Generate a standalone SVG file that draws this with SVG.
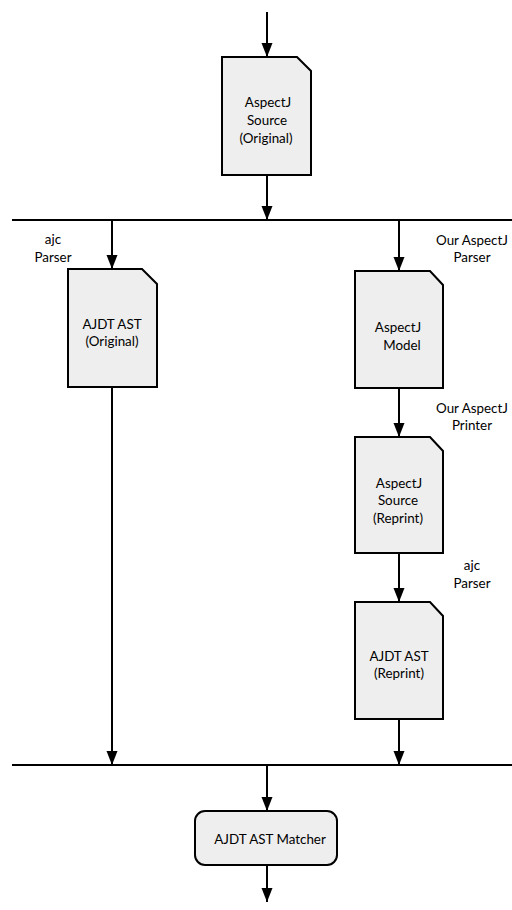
<svg xmlns="http://www.w3.org/2000/svg" width="512" height="910" viewBox="0 0 512 910">
<style>
.doc{fill:#eeeeee;stroke:#000;stroke-width:2}
.t{font-family:Lato,"Noto Sans",sans-serif;font-size:13.4px;fill:#000;text-anchor:middle}
.c line{stroke:#000;stroke-width:2}
.bar{stroke:#000;stroke-width:2}
</style>
<defs>
<marker id="ah" markerWidth="14" markerHeight="12" viewBox="0 0 14 12" refX="14" refY="5.5" orient="auto" markerUnits="userSpaceOnUse">
<path d="M0,0 L14,5.5 L0,11 Z" fill="#000"/>
</marker>
</defs>
<g id="connectors" class="c">
<line x1="12" y1="220" x2="512" y2="220" class="bar"/>
<line x1="12" y1="765" x2="512" y2="765" class="bar"/>
<line x1="267" y1="12" x2="267" y2="57" marker-end="url(#ah)"/>
<line x1="267" y1="175" x2="267" y2="220" marker-end="url(#ah)"/>
<line x1="112" y1="220" x2="112" y2="269" marker-end="url(#ah)"/>
<line x1="399" y1="220" x2="399" y2="271" marker-end="url(#ah)"/>
<line x1="399" y1="388" x2="399" y2="437" marker-end="url(#ah)"/>
<line x1="399" y1="553" x2="399" y2="602" marker-end="url(#ah)"/>
<line x1="399" y1="719" x2="399" y2="765" marker-end="url(#ah)"/>
<line x1="112" y1="383" x2="112" y2="765" marker-end="url(#ah)"/>
<line x1="267" y1="765" x2="267" y2="811" marker-end="url(#ah)"/>
<line x1="267" y1="865" x2="267" y2="902" marker-end="url(#ah)"/>
<text class="t" x="53" y="244">ajc</text>
<text class="t" x="53" y="262">Parser</text>
<text class="t" x="472" y="245">Our AspectJ</text>
<text class="t" x="472" y="262">Parser</text>
<text class="t" x="472" y="413">Our AspectJ</text>
<text class="t" x="472" y="430">Printer</text>
<text class="t" x="472" y="570">ajc</text>
<text class="t" x="472" y="588">Parser</text>
</g>
<g id="src-original">
<path class="doc" d="M222,57 H297 L311,71 V175 H222 Z"/>
<text class="t" x="268" y="107">AspectJ</text>
<text class="t" x="267" y="125">Source</text>
<text class="t" x="266" y="143">(Original)</text>
</g>
<g id="ast-original">
<path class="doc" d="M68,269 H142 L157,284 V387 H68 Z"/>
<text class="t" x="112" y="329">AJDT AST</text>
<text class="t" x="112" y="346">(Original)</text>
</g>
<g id="model">
<path class="doc" d="M355,271 H430 L443,285 V388 H355 Z"/>
<text class="t" x="398" y="332">AspectJ</text>
<text class="t" x="402" y="350">Model</text>
</g>
<g id="src-reprint">
<path class="doc" d="M355,437 H430 L443,451 V553 H355 Z"/>
<text class="t" x="399" y="488">AspectJ</text>
<text class="t" x="398" y="505">Source</text>
<text class="t" x="398" y="523">(Reprint)</text>
</g>
<g id="ast-reprint">
<path class="doc" d="M355,602 H430 L443,616 V719 H355 Z"/>
<text class="t" x="399" y="661">AJDT AST</text>
<text class="t" x="399" y="678">(Reprint)</text>
</g>
<g id="matcher">
<rect class="doc" x="195" y="811" width="142" height="54" rx="10"/>
<text class="t" x="270" y="844">AJDT AST Matcher</text>
</g>
</svg>
